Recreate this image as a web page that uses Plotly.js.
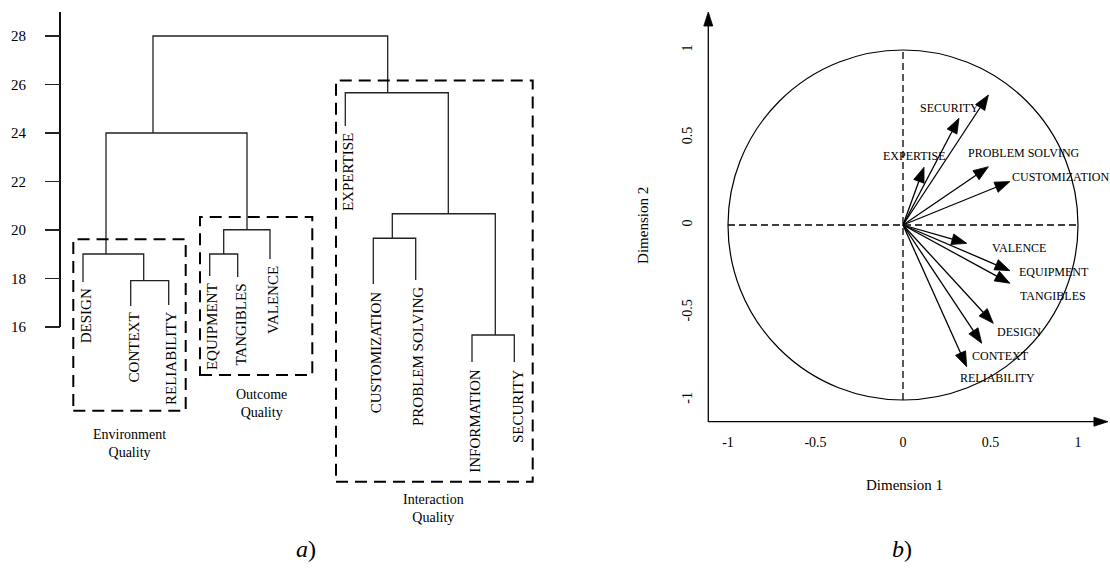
<!DOCTYPE html>
<html>
<head>
<meta charset="utf-8">
<script src="https://cdn.plot.ly/plotly-3.0.1.min.js"></script>
<style>html,body{margin:0;padding:0;background:#fff;}#chart{width:1110px;height:581px;}</style>
</head>
<body>
<div id="chart"></div>
<script>
// ---------- (a) dendrogram data ----------
var leaves = ['DESIGN','CONTEXT','RELIABILITY','EQUIPMENT','TANGIBLES','VALENCE','EXPERTISE','CUSTOMIZATION','PROBLEM SOLVING','INFORMATION','SECURITY'];
var leafPos = [83, 130.7, 168.7, 209.7, 237.7, 270, 345.3, 373.3, 415.7, 472, 514.3];
var leafEnd = [17.86, 16.87, 16.91, 18.10, 18.06, 18.80, 24.29, 17.77, 17.94, 14.56, 14.56];
// merges: node ids 0..10 are leaves, merges get ids 11,12,...
var mergeLeft   = [1, 0, 3, 13, 12, 7, 9, 16, 6, 15];
var mergeRight  = [2, 11, 4, 5, 14, 8, 10, 17, 18, 19];
var mergeHeight = [17.91, 19.01, 19.01, 20.01, 24.00, 19.66, 15.67, 20.67, 25.66, 28.00];
var mergePos    = [143.7, 106, 223.7, 247, 153, 392.3, 495.3, 448.3, 387.7, 270];
var heightTicks = [16, 18, 20, 22, 24, 26, 28];
var groupNames  = ['Environment<br>Quality', 'Outcome<br>Quality', 'Interaction<br>Quality'];
var groupFrom   = [73.3, 200, 336];
var groupTo     = [185.7, 312.3, 532.7];
var groupTop    = [19.62, 20.54, 26.17];
var groupBottom = [12.55, 14.02, 9.62];

// ---------- (b) correlation circle data ----------
var vars = ['EXPERTISE','SECURITY','INFORMATION','PROBLEM SOLVING','CUSTOMIZATION','VALENCE','EQUIPMENT','TANGIBLES','DESIGN','CONTEXT','RELIABILITY'];
var dim1 = [0.120, 0.320, 0.488, 0.488, 0.611, 0.364, 0.611, 0.611, 0.516, 0.450, 0.364];
var dim2 = [0.330, 0.610, 0.743, 0.333, 0.248, -0.105, -0.261, -0.333, -0.562, -0.676, -0.810];
var labelText = ['EXPERTISE','SECURITY','PROBLEM SOLVING','CUSTOMIZATION','VALENCE','EQUIPMENT','TANGIBLES','DESIGN','CONTEXT','RELIABILITY'];
var labelX = [0.063, 0.263, 0.691, 0.900, 0.663, 0.863, 0.859, 0.663, 0.558, 0.539];
var labelY = [0.394, 0.667, 0.413, 0.273, -0.130, -0.267, -0.406, -0.610, -0.749, -0.876];
var dimTicks = [-1, -0.5, 0, 0.5, 1];

var FONT = 'Liberation Serif, Times New Roman, serif';

// ---- build dendrogram path ----
var nodeX = leafPos.slice(), nodeY = leafEnd.slice();
var dx = [], dy = [];
for (var i = 0; i < mergeLeft.length; i++) {
  var l = mergeLeft[i], r = mergeRight[i], h = mergeHeight[i];
  dx.push(nodeX[l], nodeX[l], nodeX[r], nodeX[r], null);
  dy.push(nodeY[l], h, h, nodeY[r], null);
  nodeX.push(mergePos[i]); nodeY.push(h);
}
var traces = [];
traces.push({x: dx, y: dy, mode: 'lines', line: {color: '#222', width: 1.3}, xaxis: 'x', yaxis: 'y', hoverinfo: 'skip', showlegend: false});

// axis line of the dendrogram
traces.push({x: [60, 60], y: [16, 28.99], mode: 'lines', line: {color: '#111', width: 2}, xaxis: 'x', yaxis: 'y', hoverinfo: 'skip', showlegend: false});

// ---- correlation circle: vectors with filled heads ----
var headLen = 15 / 175, headHalf = 5.5 / 175;
var vx = [], vy = [], hx = [], hy = [];
function addArrow(x0, y0, x1, y1, L, W) {
  var ux = x1 - x0, uy = y1 - y0, n = Math.sqrt(ux * ux + uy * uy);
  ux /= n; uy /= n;
  var bx = x1 - ux * L, by = y1 - uy * L;
  vx.push(x0, bx, null); vy.push(y0, by, null);
  hx.push(x1, bx - uy * W, bx + uy * W, x1, null);
  hy.push(y1, by + ux * W, by - ux * W, y1, null);
}
for (var k = 0; k < vars.length; k++) addArrow(0, 0, dim1[k], dim2[k], headLen, headHalf);
// axes with arrows
var ax0 = -1.1126, ay0 = -1.124;
addArrow(ax0, ay0, ax0, 1.217, 14 / 175, 4.5 / 175);
addArrow(ax0, ay0, 1.171, ay0, 14 / 175, 4.5 / 175);
traces.push({x: vx, y: vy, mode: 'lines', line: {color: '#000', width: 1.3}, xaxis: 'x2', yaxis: 'y2', hoverinfo: 'skip', showlegend: false});
traces.push({x: hx, y: hy, mode: 'lines', fill: 'toself', fillcolor: '#000', line: {color: '#000', width: 0.8}, xaxis: 'x2', yaxis: 'y2', hoverinfo: 'skip', showlegend: false});

// ---- shapes ----
var shapes = [];
for (var g = 0; g < groupNames.length; g++) {
  shapes.push({type: 'rect', xref: 'x', yref: 'y', x0: groupFrom[g], x1: groupTo[g], y0: groupBottom[g], y1: groupTop[g],
    line: {color: '#000', width: 2, dash: '12px,7px'}});
}
shapes.push({type: 'circle', xref: 'x2', yref: 'y2', x0: -1, x1: 1, y0: -1, y1: 1, line: {color: '#000', width: 1.2}});
shapes.push({type: 'line', xref: 'x2', yref: 'y2', x0: -1, x1: 1, y0: 0, y1: 0, line: {color: '#000', width: 1.3, dash: '7px,4px'}});
shapes.push({type: 'line', xref: 'x2', yref: 'y2', x0: 0, x1: 0, y0: -1, y1: 1, line: {color: '#000', width: 1.3, dash: '7px,4px'}});

// ---- annotations ----
var ann = [];
for (var j = 0; j < leaves.length; j++) {
  ann.push({xref: 'x', yref: 'y', x: leafPos[j] + 3, y: leafEnd[j] - 0.2, text: leaves[j], textangle: -90,
    xanchor: 'center', yanchor: 'top', showarrow: false, font: {family: FONT, size: 15, color: '#000'}});
}
var groupCenterY = [11.18, 12.85, 8.52];
for (var g2 = 0; g2 < groupNames.length; g2++) {
  ann.push({xref: 'x', yref: 'y', x: (groupFrom[g2] + groupTo[g2]) / 2 + (g2 === 0 ? 0 : (g2 === 1 ? 5 : -1)), y: groupCenterY[g2], text: groupNames[g2],
    showarrow: false, font: {family: FONT, size: 14, color: '#000'}});
}
for (var m = 0; m < labelText.length; m++) {
  ann.push({xref: 'x2', yref: 'y2', x: labelX[m], y: labelY[m], text: labelText[m], showarrow: false,
    font: {family: FONT, size: 12, color: '#000'}});
}
ann.push({xref: 'x2', yref: 'y2', x: 0.01, y: -1.486, text: 'Dimension 1', showarrow: false, font: {family: FONT, size: 15, color: '#000'}});
ann.push({xref: 'x2', yref: 'y2', x: -1.486, y: 0, text: 'Dimension 2', textangle: -90, showarrow: false, font: {family: FONT, size: 15, color: '#000'}});
ann.push({xref: 'paper', yref: 'paper', x: 294 / 1110, y: 1 - 564 / 581, text: '<i>a</i>)', showarrow: false, font: {family: FONT, size: 24, color: '#000'}});
ann.push({xref: 'paper', yref: 'paper', x: 914 / 1110, y: 1 - 564 / 581, text: '<i>b</i>)', showarrow: false, font: {family: FONT, size: 24, color: '#000'}});

var layout = {
  width: 1110, height: 581,
  margin: {l: 0, r: 0, t: 0, b: 0},
  paper_bgcolor: '#fff', plot_bgcolor: 'rgba(0,0,0,0)',
  showlegend: false,
  xaxis: {domain: [0, 0.5], range: [0, 555], visible: false, fixedrange: true},
  yaxis: {domain: [0, 1], range: [5.5258, 29.4845], anchor: 'free', position: 60 / 1110,
    showgrid: false, zeroline: false, showline: false,
    tickvals: heightTicks, ticktext: heightTicks.map(String), ticks: 'outside', ticklen: 15, tickwidth: 1.3, tickcolor: '#222',
    ticklabelstandoff: 16, tickfont: {family: FONT, size: 15, color: '#000'}},
  xaxis2: {domain: [0.5, 1], range: [-1.98857, 1.18286], anchor: 'free', position: (581 - 421.7) / 581,
    showgrid: false, zeroline: false, showline: false, ticks: '',
    tickvals: dimTicks, ticktext: dimTicks.map(String), ticklabelstandoff: 10,
    tickfont: {family: FONT, size: 14, color: '#000'}},
  yaxis2: {domain: [0, 1], range: [-2.0343, 1.2857], anchor: 'free', position: 708.3 / 1110,
    showgrid: false, zeroline: false, showline: false, ticks: '',
    tickvals: dimTicks, ticktext: dimTicks.map(String), tickangle: -90, ticklabelstandoff: 14,
    tickfont: {family: FONT, size: 14, color: '#000'}},
  shapes: shapes,
  annotations: ann
};
Plotly.newPlot('chart', traces, layout, {staticPlot: true, displayModeBar: false});
</script>
</body>
</html>
